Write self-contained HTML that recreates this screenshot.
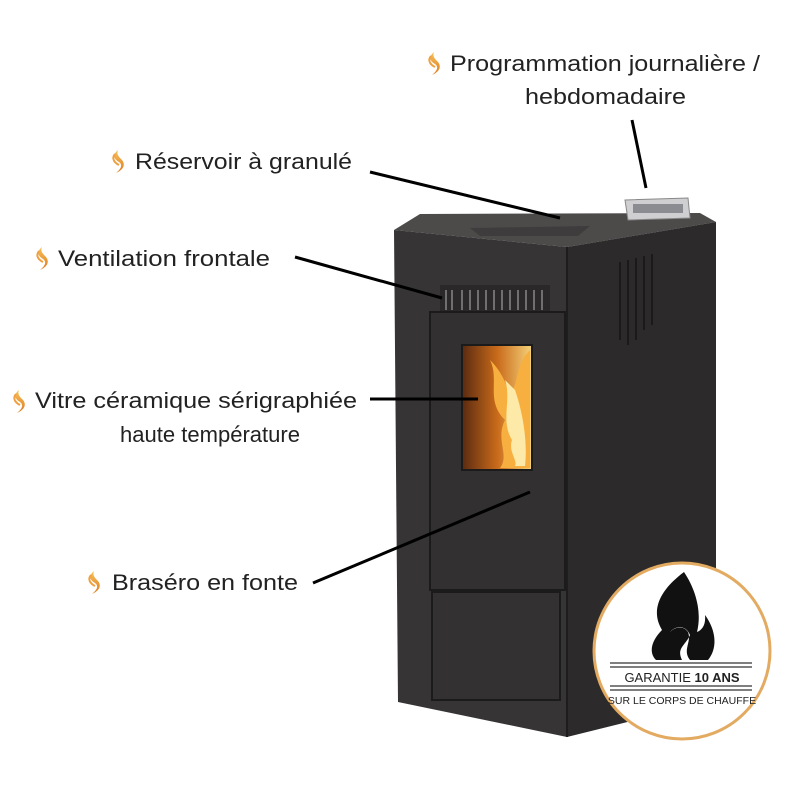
<!DOCTYPE html>
<html><head><meta charset="utf-8"><style>
body{margin:0;background:#fff;}
svg{display:block}
text{font-family:"Liberation Sans",sans-serif;}
</style></head><body>
<svg width="800" height="800" viewBox="0 0 800 800">
<defs>
<linearGradient id="fl" x1="0" y1="0" x2="0" y2="1"><stop offset="0" stop-color="#f7c25a"/><stop offset="1" stop-color="#e07a1f"/></linearGradient>
<linearGradient id="fire" x1="0" y1="0" x2="1" y2="0"><stop offset="0" stop-color="#5a2a10"/><stop offset="0.5" stop-color="#c86a1a"/><stop offset="1" stop-color="#f5d27a"/></linearGradient>
<g id="ic"><path d="M6 0 C0 5 2 9 7 12 C11 15 9 19 4 23 C11 20 14 15 10 10 C7 7 4 4 6 0Z" fill="url(#fl)"/><path d="M3 4 C-1 9 3 13 7 15" stroke="#f0a040" stroke-width="2" fill="none"/></g>
</defs>
<!-- stove -->
<polygon points="394,230 420,214 700,213 716,222 567,247" fill="#4d4a4a"/>
<polygon points="470,228 590,226 578,236 480,236" fill="#3e3c3c"/>
<polygon points="394,230 567,247 567,737 398,702" fill="#363434"/>
<polygon points="567,247 716,222 716,700 567,737" fill="#2c2a2a"/>
<line x1="567" y1="247" x2="567" y2="737" stroke="#1e1d1d" stroke-width="2"/>
<g stroke="#1a1a1a" stroke-width="2"><line x1="620" y1="262" x2="620" y2="340"/><line x1="628" y1="260" x2="628" y2="345"/><line x1="636" y1="258" x2="636" y2="340"/><line x1="644" y1="256" x2="644" y2="330"/><line x1="652" y1="254" x2="652" y2="325"/></g>
<!-- vent -->
<rect x="440" y="285" width="110" height="28" fill="#2a2828"/>
<g stroke="#888" stroke-width="1.5"><path d="M446 290v20M452 290v20M462 290v20M470 290v20M478 290v20M486 290v20M494 290v20M502 290v20M510 290v20M518 290v20M526 290v20M534 290v20M542 290v20"/></g>
<!-- door -->
<rect x="430" y="312" width="135" height="278" fill="#323030" stroke="#1c1b1b" stroke-width="2"/>
<rect x="462" y="345" width="70" height="125" fill="url(#fire)" stroke="#1c1b1b" stroke-width="2"/>
<path d="M490 360 C500 380 485 400 505 420 C495 440 510 455 500 468 L530 468 L530 350 C515 365 520 380 510 395 C505 380 500 370 490 360Z" fill="#f7b040"/>
<path d="M505 380 C512 400 500 420 512 440 C508 452 518 460 515 466 L525 466 C528 440 522 410 515 390Z" fill="#fde9a8"/>
<rect x="432" y="592" width="128" height="108" fill="#333131" stroke="#1c1b1b" stroke-width="2"/>
<!-- control panel -->
<polygon points="625,200 688,198 690,218 628,220" fill="#cfcfd2" stroke="#888"/>
<rect x="633" y="204" width="50" height="9" fill="#8a8c92"/>
<!-- lines -->
<g stroke="#000" stroke-width="3" fill="none">
<line x1="632" y1="120" x2="646" y2="188"/>
<line x1="370" y1="172" x2="560" y2="218"/>
<line x1="295" y1="257" x2="442" y2="298"/>
<line x1="370" y1="399" x2="478" y2="399"/>
<line x1="313" y1="583" x2="530" y2="492"/>
</g>
<!-- labels -->
<g font-size="22" fill="#222">
<use href="#ic" x="428" y="52"/><text x="450" y="71" textLength="310" lengthAdjust="spacingAndGlyphs">Programmation journalière /</text>
<text x="525" y="104" textLength="161" lengthAdjust="spacingAndGlyphs">hebdomadaire</text>
<use href="#ic" x="112" y="150"/><text x="135" y="169" textLength="217" lengthAdjust="spacingAndGlyphs">Réservoir à granulé</text>
<use href="#ic" x="36" y="247"/><text x="58" y="266" textLength="212" lengthAdjust="spacingAndGlyphs">Ventilation frontale</text>
<use href="#ic" x="13" y="390"/><text x="35" y="408" textLength="322" lengthAdjust="spacingAndGlyphs">Vitre céramique sérigraphiée</text>
<text x="120" y="442" textLength="180" lengthAdjust="spacingAndGlyphs">haute température</text>
<use href="#ic" x="88" y="571"/><text x="112" y="590" textLength="186" lengthAdjust="spacingAndGlyphs">Braséro en fonte</text>
</g>
<!-- badge -->
<circle cx="682" cy="651" r="88" fill="#fff" stroke="#e3ab62" stroke-width="3"/>
<path d="M684 572 C660 590 650 610 662 630 C652 640 648 652 656 660 L708 660 C718 648 716 630 705 615 C706 625 702 630 697 632 C702 612 696 590 684 572Z" fill="#111"/>
<path d="M670 632 C676 625 686 625 690 635 C686 645 676 648 682 660 L690 660 C682 650 692 642 688 632 C684 626 676 626 670 632Z" fill="#fff"/>
<g stroke="#555" stroke-width="1.5"><line x1="610" y1="663" x2="752" y2="663"/><line x1="610" y1="667" x2="752" y2="667"/><line x1="610" y1="686" x2="752" y2="686"/><line x1="610" y1="690" x2="752" y2="690"/></g>
<text x="682" y="682" font-size="13" text-anchor="middle" fill="#222">GARANTIE <tspan font-weight="bold">10 ANS</tspan></text>
<text x="682" y="704" font-size="10.5" text-anchor="middle" fill="#222">SUR LE CORPS DE CHAUFFE</text>
</svg>
</body></html>
